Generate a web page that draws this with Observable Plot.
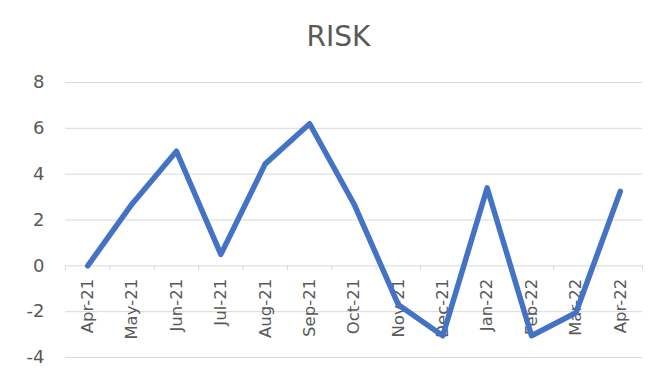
<!DOCTYPE html>
<html>
<head>
<meta charset="utf-8">
<script src="https://cdn.jsdelivr.net/npm/d3@7"></script>
<script src="https://cdn.jsdelivr.net/npm/@observablehq/plot@0.6"></script>
<style>
  html, body { margin: 0; padding: 0; background: #ffffff; }
  #title {
    box-sizing: border-box;
    width: 665px; height: 60px;
    padding-top: 23px; padding-left: 12px;
    font-family: "DejaVu Sans", sans-serif;
    font-size: 28px; line-height: 28px;
    color: #595959; text-align: center;
  }
</style>
</head>
<body>
<div id="title">RISK</div>
<div id="chart"></div>
<script>
const months = ["Apr-21","May-21","Jun-21","Jul-21","Aug-21","Sep-21","Oct-21","Nov-21","Dec-21","Jan-22","Feb-22","Mar-22","Apr-22"];
const risk = [0, 2.7, 5.0, 0.5, 4.45, 6.2, 2.7, -1.7, -3.05, 3.4, -3.05, -2.05, 3.25];
const yTicks = [-4, -2, 0, 2, 4, 6, 8];

const data = months.map((m, i) => ({i, month: m, value: risk[i]}));
const boundaries = d3.range(months.length + 1).map(i => i - 0.5);

const chart = Plot.plot({
  width: 665,
  height: 320,
  marginTop: 22,
  marginBottom: 23,
  marginLeft: 65,
  marginRight: 23,
  style: {fontFamily: "DejaVu Sans, sans-serif", color: "#595959", background: "#ffffff"},
  x: {domain: [-0.5, months.length - 0.5], axis: null},
  y: {domain: [-4, 8], axis: null},
  marks: [
    Plot.ruleY(yTicks, {stroke: "#d9d9d9", strokeWidth: 1}),
    Plot.ruleX(boundaries, {x: d => d, y1: 0, y2: 0, insetBottom: -5, stroke: "#d9d9d9", strokeWidth: 1}),
    Plot.axisY({ticks: yTicks, tickSize: 0, tickPadding: 21, fontSize: 18, label: null, tickFormat: d => String(d), fill: "#595959"}),
    Plot.text(data, {x: "i", y: 0, text: "month", rotate: -90, textAnchor: "end", dy: 13, fontSize: 16.5, fill: "#595959"}),
    Plot.line(data, {x: "i", y: "value", stroke: "#4472C4", strokeWidth: 5.5, strokeLinejoin: "round", strokeLinecap: "round"})
  ]
});
document.getElementById("chart").appendChild(chart);
</script>
</body>
</html>
